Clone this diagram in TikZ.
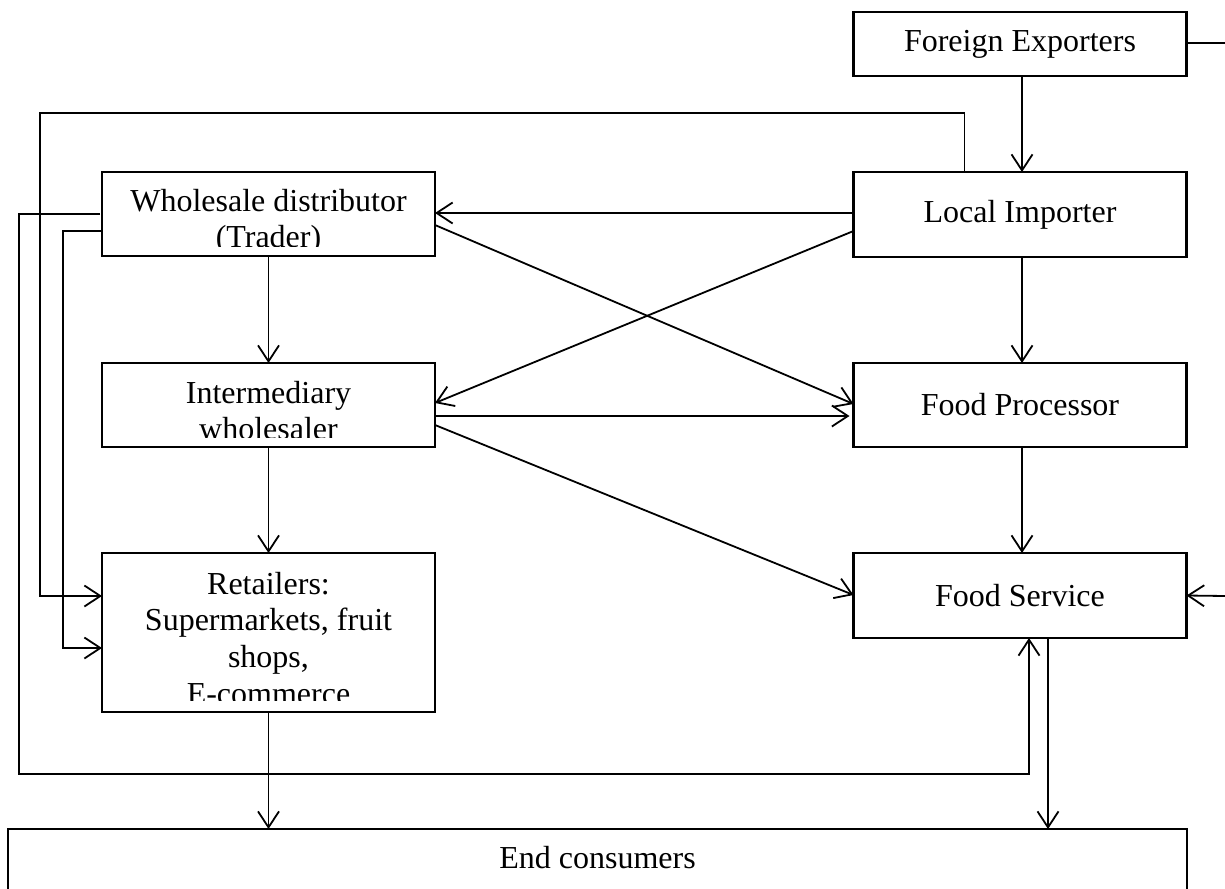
\documentclass[tikz,border=0pt]{standalone}
\usepackage{fontspec}
\setmainfont{Liberation Serif}
\usetikzlibrary{arrows.meta,calc}
\tikzset{
  box/.style={draw, line width=1.3pt, minimum width=166.5pt, inner sep=0pt, outer sep=0pt,
    font=\fontsize{16pt}{18.35pt}\selectfont},
  txt/.style={inner sep=0pt, outer sep=0pt, align=center, anchor=north,
    font=\fontsize{16pt}{18.35pt}\selectfont},
  conn/.style={line width=0.9pt},
  arr/.style={conn, -{Straight Barb[length=8pt,width=10.5pt]}},
}
\begin{document}
\begin{tikzpicture}[x=0.5pt,y=-0.5pt]
\useasboundingbox (0,0) rectangle (1225,888);
% boxes
\node[box, minimum height=32pt]   (fe) at (1020,44)  {Foreign Exporters};
\node[box, minimum height=42.5pt] (li) at (1020,214.5) {Local Importer};
\node[box, minimum height=42pt]   (wd) at (268.5,214) {};
\node[box, minimum height=42pt]   (iw) at (268.5,405) {};
\node[box, minimum height=79.5pt] (rt) at (268.5,632.5) {};
\node[box, minimum height=42pt]   (fp) at (1020,405) {Food Processor};
\node[box, minimum height=42.5pt] (fs) at (1020,595.5) {Food Service};
\node[box, minimum width=589.5pt, minimum height=50pt, anchor=north] (ec) at (597.5,829) {};
\node[txt, anchor=center] (ect) at (597.5,858) {End consumers};
% clipped multi-line texts
\begin{scope}
  \clip (wd.north west) rectangle ($(wd.south east)+(0,-10)$);
  \node[txt] (wdt) at (268.5,189) {Wholesale distributor\\(Trader)};
\end{scope}
\begin{scope}
  \clip (iw.north west) rectangle ($(iw.south east)+(0,-10)$);
  \node[txt] (iwt) at (268.5,381) {Intermediary\\wholesaler};
\end{scope}
\begin{scope}
  \clip (rt.north west) rectangle ($(rt.south east)+(0,-12)$);
  \node[txt] (rtt) at (268.5,572) {Retailers:\\Supermarkets, fruit\\shops,\\E-commerce};
\end{scope}
% free-end coordinates
\coordinate (c1) at (40,113);
\coordinate (c2) at (19,774);
\coordinate (c3) at (63,648);
\coordinate (e1) at (1225,43);
\coordinate (e2) at (1225,596);
\coordinate (fsb) at ($(fs.south)+(28,0)$);
\coordinate (fsu) at ($(fs.south)+(9,0)$);
% connectors
\draw[arr] ($(fe.south)+(2,0)$) -- ($(li.north)+(2,0)$);
\draw[arr] ($(li.north west)+(0,41)$) -- ($(wd.north east)+(0,41)$);
\draw[arr] ($(wd.north east)+(0,53)$) -- ($(fp.north west)+(0,41)$);
\draw[arr] ($(li.north west)+(0,59)$) -- ($(iw.north east)+(0,40)$);
\draw[arr] ($(iw.north east)+(0,53)$) -- ($(fp.north west)+(-4,53)$);
\draw[arr] ($(iw.north east)+(0,62)$) -- ($(fs.north west)+(0,42)$);
\draw[arr] (wd.south) -- (iw.north);
\draw[arr] (iw.south) -- (rt.north);
\draw[arr] (rt.south) -- (rt.south |- ec.north);
\draw[arr] ($(li.south)+(2,0)$) -- ($(fp.north)+(2,0)$);
\draw[arr] ($(fp.south)+(2,0)$) -- ($(fs.north)+(2,0)$);
\draw[arr] (fsb) -- (fsb |- ec.north);
\draw[arr] ($(li.north west)+(111,0)$) |- (c1) |- ($(rt.north west)+(0,43)$);
\draw[arr] ($(wd.north west)+(-2,42)$) -| (c2) -| (fsu);
\draw[arr] ($(wd.north west)+(0,59)$) -| (c3) -- ($(rt.north west)+(0,95)$);
\draw[conn] ($(fe.north east)+(0,31)$) -- (e1);
\draw[arr] (e2) -- (fs.east);
\end{tikzpicture}
\end{document}
